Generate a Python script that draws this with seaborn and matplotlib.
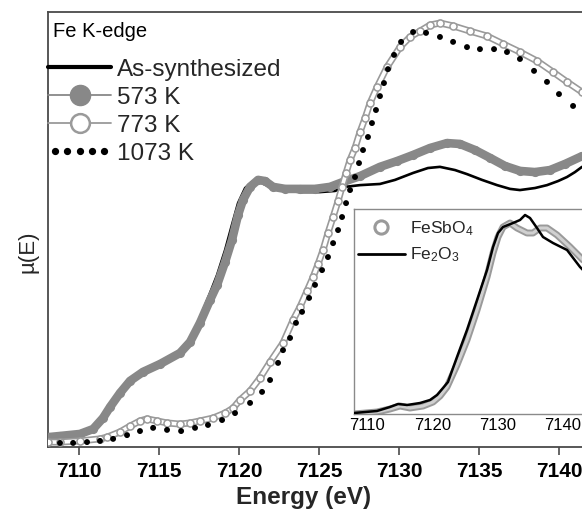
import matplotlib
matplotlib.use("Agg")
import matplotlib.pyplot as plt
from matplotlib.lines import Line2D
from matplotlib.legend_handler import HandlerLine2D
import seaborn as sns

# ---------------- data ----------------
# As-synthesized (black line)
e_as = [7108.06, 7108.81, 7110.06, 7110.88, 7111.50, 7111.94, 7112.56, 7113.19, 7114.00, 7115.06,
        7116.31, 7116.94, 7117.56, 7118.19, 7118.63, 7119.13, 7119.56, 7119.94, 7120.38, 7120.81,
        7121.31, 7121.81, 7122.56, 7123.81, 7125.06, 7126.00, 7126.63, 7127.56, 7128.81, 7129.75,
        7130.88, 7131.81, 7132.56, 7133.50, 7134.25, 7135.19, 7136.13, 7136.94, 7137.56, 7138.50,
        7139.25, 7139.94, 7140.50, 7141.00, 7141.44]
mu_as = [0.031, 0.034, 0.041, 0.059, 0.093, 0.131, 0.179, 0.221, 0.255, 0.283,
         0.324, 0.369, 0.445, 0.531, 0.593, 0.679, 0.766, 0.841, 0.893, 0.914,
         0.914, 0.900, 0.886, 0.879, 0.879, 0.883, 0.897, 0.903, 0.907, 0.921,
         0.945, 0.962, 0.966, 0.955, 0.941, 0.921, 0.903, 0.890, 0.886, 0.893,
         0.903, 0.917, 0.931, 0.948, 0.966]

# 573 K (grey filled circles)
e_573 = [7108.06, 7108.81, 7110.06, 7110.88, 7111.50, 7111.94, 7112.56, 7113.19, 7114.00, 7115.06,
         7116.31, 7116.94, 7117.56, 7118.19, 7118.63, 7119.13, 7119.56, 7119.94, 7120.25, 7120.69,
         7121.19, 7121.63, 7122.13, 7122.88, 7123.81, 7124.75, 7125.69, 7126.50, 7127.56, 7128.81,
         7129.88, 7130.88, 7131.94, 7133.00, 7133.81, 7134.75, 7135.69, 7136.63, 7137.56, 7138.50,
         7139.44, 7140.38, 7141.44]
mu_573 = [0.034, 0.038, 0.045, 0.062, 0.100, 0.138, 0.186, 0.228, 0.259, 0.286,
          0.324, 0.362, 0.428, 0.507, 0.559, 0.638, 0.714, 0.800, 0.852, 0.897,
          0.921, 0.917, 0.897, 0.890, 0.890, 0.890, 0.897, 0.914, 0.934, 0.966,
          0.986, 1.007, 1.031, 1.048, 1.045, 1.024, 0.997, 0.969, 0.952, 0.948,
          0.955, 0.976, 1.003]

# 773 K (open circles)
e_773 = [7108.06, 7108.81, 7110.06, 7111.31, 7111.75, 7112.56, 7113.19, 7113.81, 7114.25, 7114.88,
         7115.50, 7116.31, 7116.94, 7117.56, 7118.38, 7119.13, 7119.63, 7120.06, 7120.69, 7121.31,
         7121.94, 7122.75, 7123.38, 7123.81, 7124.25, 7124.63, 7124.94, 7125.25, 7125.56, 7125.88,
         7126.19, 7126.44, 7126.69, 7126.94, 7127.25, 7127.56, 7127.88, 7128.19, 7128.63, 7129.25,
         7130.06, 7130.69, 7131.31, 7131.94, 7132.56, 7133.38, 7134.44, 7135.50, 7136.50, 7137.56,
         7138.63, 7139.63, 7140.50, 7141.44]
mu_773 = [0.017, 0.017, 0.021, 0.028, 0.034, 0.052, 0.072, 0.090, 0.097, 0.090,
          0.083, 0.079, 0.083, 0.090, 0.100, 0.117, 0.134, 0.162, 0.193, 0.238,
          0.293, 0.359, 0.438, 0.483, 0.538, 0.586, 0.631, 0.679, 0.738, 0.793,
          0.848, 0.897, 0.945, 0.990, 1.031, 1.086, 1.134, 1.186, 1.241, 1.310,
          1.379, 1.414, 1.434, 1.455, 1.462, 1.452, 1.434, 1.417, 1.390, 1.362,
          1.331, 1.293, 1.259, 1.224]

# 1073 K (black dots)
e_1073 = [7108.81, 7109.63, 7110.50, 7111.31, 7112.13, 7113.00, 7113.81, 7114.63, 7115.50, 7116.38,
          7117.25, 7118.06, 7118.94, 7119.75, 7120.69, 7121.44, 7121.94, 7122.44, 7122.75, 7123.19,
          7123.56, 7123.94, 7124.38, 7124.75, 7125.19, 7125.56, 7125.88, 7126.19, 7126.44, 7126.69,
          7126.94, 7127.25, 7127.50, 7127.75, 7128.06, 7128.31, 7128.56, 7128.81, 7129.06, 7129.31,
          7129.69, 7130.13, 7130.88, 7131.69, 7132.56, 7133.38, 7134.25, 7135.06, 7135.94, 7136.75,
          7137.56, 7138.44, 7139.25, 7140.00, 7140.88]
mu_1073 = [0.014, 0.014, 0.017, 0.021, 0.028, 0.041, 0.055, 0.066, 0.059, 0.055,
           0.066, 0.076, 0.093, 0.117, 0.152, 0.190, 0.231, 0.290, 0.334, 0.376,
           0.428, 0.466, 0.514, 0.559, 0.610, 0.655, 0.703, 0.748, 0.793, 0.841,
           0.886, 0.931, 0.979, 1.024, 1.069, 1.117, 1.162, 1.210, 1.255, 1.303,
           1.352, 1.397, 1.431, 1.428, 1.414, 1.397, 1.379, 1.372, 1.372, 1.362,
           1.338, 1.297, 1.259, 1.217, 1.176]

# Inset: Fe2O3 reference (black line)
e_fe2o3 = [7108.01, 7111.53, 7113.52, 7114.75, 7116.13, 7118.12, 7119.65, 7120.72, 7121.64, 7122.40,
           7123.78, 7125.31, 7126.85, 7128.38, 7129.30, 7130.06, 7130.83, 7132.36, 7133.43, 7134.20,
           7134.96, 7136.03, 7136.95, 7138.48, 7140.63, 7142.62, 7143.38]
mu_fe2o3 = [0.005, 0.015, 0.035, 0.050, 0.045, 0.055, 0.070, 0.095, 0.130, 0.160,
            0.285, 0.420, 0.570, 0.720, 0.835, 0.905, 0.935, 0.955, 0.970, 0.995,
            0.980, 0.930, 0.885, 0.855, 0.820, 0.735, 0.710]

# Inset: FeSbO4 (grey open circles)
e_fesbo4 = [7108.01, 7111.53, 7113.52, 7115.05, 7116.58, 7118.58, 7120.11, 7121.18, 7122.25, 7123.78,
            7125.31, 7126.85, 7128.38, 7129.30, 7130.06, 7130.83, 7131.90, 7132.97, 7134.50, 7135.42,
            7136.49, 7137.56, 7139.10, 7141.09, 7142.62, 7143.38]
mu_fesbo4 = [0.000, 0.010, 0.025, 0.040, 0.030, 0.040, 0.060, 0.090, 0.135, 0.245,
             0.370, 0.520, 0.685, 0.805, 0.885, 0.935, 0.955, 0.930, 0.905, 0.905,
             0.930, 0.930, 0.895, 0.835, 0.785, 0.760]

main_ticks = [7110, 7115, 7120, 7125, 7130, 7135, 7140]
inset_ticks = [7110, 7120, 7130, 7140]
labels_main = ["As-synthesized", "573 K", "773 K", "1073 K"]

# ---------------- style ----------------
sns.set_theme(style="white")
plt.rcParams["font.family"] = ["Liberation Sans", "DejaVu Sans"]
plt.rcParams["mathtext.fontset"] = "custom"
plt.rcParams["mathtext.rm"] = "Liberation Sans"
plt.rcParams["mathtext.it"] = "Liberation Sans:italic"
plt.rcParams["mathtext.bf"] = "Liberation Sans:bold"

GREY = "#888888"
GREY_EDGE = "#9a9a9a"
SPINE = "#4a4a4a"

fig = plt.figure(figsize=(5.82, 5.11), dpi=100)
ax = fig.add_axes([48 / 582, 64 / 511, 536.9 / 582, 435 / 511])

# As-synthesized
sns.lineplot(x=e_as, y=mu_as, ax=ax, sort=False, estimator=None, color="black",
             lw=1.9, legend=False, zorder=2)
# 573 K
sns.lineplot(x=e_573, y=mu_573, ax=ax, sort=False, estimator=None, color=GREY,
             lw=6.2, marker="o", ms=6.6, mfc=GREY, mec=GREY, mew=0, legend=False, zorder=3)
# 773 K (open circles -> grey tube with white core)
sns.lineplot(x=e_773, y=mu_773, ax=ax, sort=False, estimator=None, color=GREY_EDGE,
             lw=5.0, legend=False, zorder=4)
sns.lineplot(x=e_773, y=mu_773, ax=ax, sort=False, estimator=None, color="white",
             lw=2.6, legend=False, zorder=4.1)
sns.scatterplot(x=e_773, y=mu_773, ax=ax, s=26, marker="o", facecolor="white",
                edgecolor=GREY_EDGE, linewidth=1.1, legend=False, zorder=4.2)
# 1073 K
sns.scatterplot(x=e_1073, y=mu_1073, ax=ax, s=18, marker="o", color="black",
                edgecolor="none", legend=False, zorder=5)

ax.set_xlim(7108.06, 7141.62)
ax.set_ylim(0, 1.5)
ax.set_xticks(main_ticks)
ax.set_xticklabels([str(t) for t in main_ticks], fontsize=15, fontweight="bold")
ax.set_yticks([])
ax.tick_params(axis="x", direction="out", length=5.5, width=1.2, color=SPINE, pad=5,
               bottom=True, labelcolor="black")
for side in ["left", "top", "bottom"]:
    ax.spines[side].set_visible(True)
    ax.spines[side].set_color(SPINE)
    ax.spines[side].set_linewidth(1.3)
ax.spines["right"].set_visible(False)

ax.set_xlabel("Energy (eV)", fontsize=17.5, fontweight="bold")
ax.xaxis.set_label_coords(0.476, -0.117)
ax.xaxis.label.set_verticalalignment("center")
ax.set_ylabel("\u00b5(E)", fontsize=16)
ax.yaxis.set_label_coords(-0.038, 0.45)
ax.yaxis.label.set_verticalalignment("center")

ax.text(0.009, 0.956, "Fe K-edge", transform=ax.transAxes, fontsize=14.5,
        ha="left", va="center", color="black")

h_as = Line2D([], [], color="black", lw=3.0)
h_573 = Line2D([], [], color=GREY, lw=1.3, marker="o", ms=14.5, mfc=GREY, mec=GREY)
h_773 = Line2D([], [], color=GREY_EDGE, lw=1.3, marker="o", ms=13.5, mfc="white",
               mec=GREY_EDGE, mew=1.8)
h_1073 = Line2D([], [], color="black", ls="none", marker="o", ms=4.2, mfc="black", mec="black")
leg = ax.legend([h_as, h_573, h_773, h_1073], labels_main, loc="upper left",
                bbox_to_anchor=(0.0, 0.893), frameon=False, fontsize=17.5,
                handlelength=2.6, handletextpad=0.22, labelspacing=0.25,
                borderpad=0, borderaxespad=0,
                handler_map={h_1073: HandlerLine2D(numpoints=5)})
leg.set_zorder(10)

# ---------------- inset ----------------
axi = fig.add_axes([354 / 582, 97 / 511, 231 / 582, 205 / 511])
axi.set_facecolor("white")
sns.lineplot(x=e_fesbo4, y=mu_fesbo4, ax=axi, sort=False, estimator=None, color=GREY_EDGE,
             lw=5.0, legend=False, zorder=2)
sns.lineplot(x=e_fesbo4, y=mu_fesbo4, ax=axi, sort=False, estimator=None, color="#d0d0d0",
             lw=2.2, legend=False, zorder=2.1)
sns.lineplot(x=e_fe2o3, y=mu_fe2o3, ax=axi, sort=False, estimator=None, color="black",
             lw=1.8, legend=False, zorder=3)
axi.set_xlim(7108.01, 7143.38)
axi.set_ylim(0, 1.025)
axi.set_xticks(inset_ticks)
axi.set_xticklabels([str(t) for t in inset_ticks], fontsize=12)
axi.set_yticks([])
axi.tick_params(axis="x", length=0, pad=3, labelcolor="black")
for side in ["left", "top", "bottom", "right"]:
    axi.spines[side].set_visible(True)
    axi.spines[side].set_color("#8a8a8a")
    axi.spines[side].set_linewidth(1.0)

hi_1 = Line2D([], [], ls="none", marker="o", ms=9.5, mfc="white", mec=GREY_EDGE, mew=2.2)
hi_2 = Line2D([], [], color="black", lw=2.0)
axi.legend([hi_1, hi_2], [r"FeSbO$_\mathregular{4}$", r"Fe$_\mathregular{2}$O$_\mathregular{3}$"],
           loc="upper left", bbox_to_anchor=(0.017, 0.95), frameon=False, fontsize=12.5,
           handlelength=2.7, handletextpad=0.3, labelspacing=0.45,
           borderpad=0, borderaxespad=0)

fig.savefig("out.png", dpi=100)
